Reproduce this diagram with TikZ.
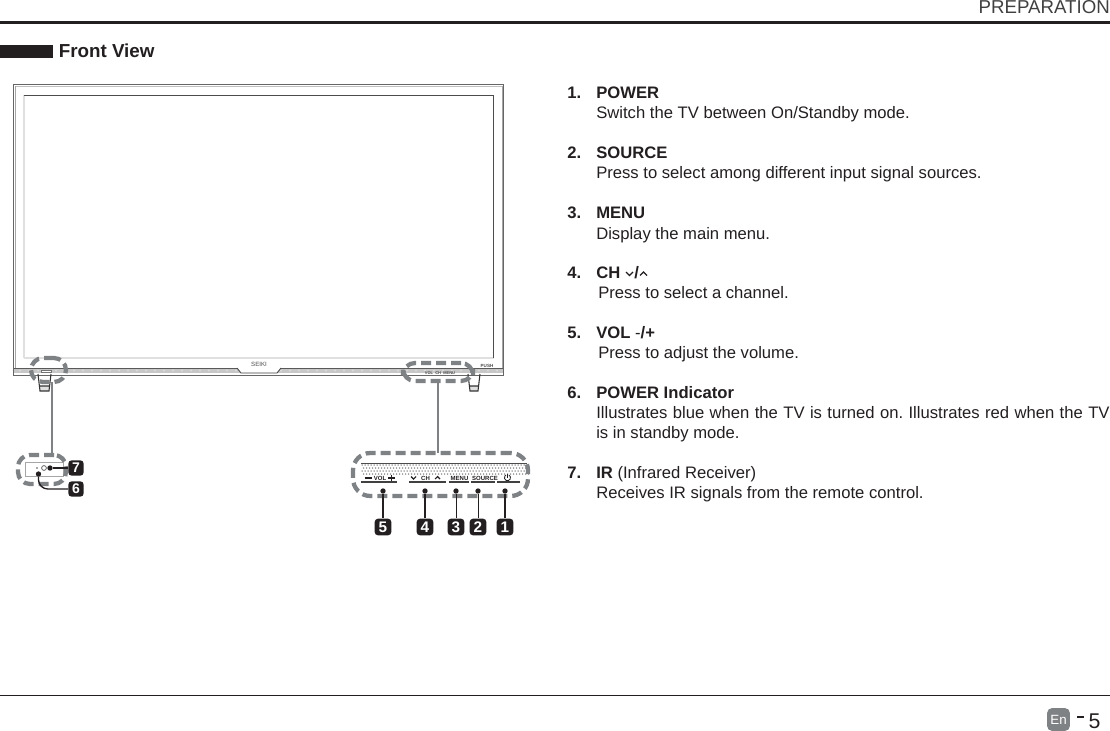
\documentclass[tikz,border=0pt]{standalone}
\usepackage{fontspec}
\setmainfont{Liberation Sans}
\usetikzlibrary{calc}
\definecolor{dashgray}{HTML}{7F8285}
\definecolor{inkdark}{HTML}{231F20}
\tikzset{
  x=0.75pt,y=-0.75pt,
  body/.style={anchor=base west,inner sep=0pt,yshift=-0.75pt,text=inkdark,font=\fontsize{12.48pt}{15pt}\selectfont},
  num/.style={body,font=\fontsize{12.48pt}{15pt}\selectfont\bfseries},
  badge/.style={fill=inkdark,text=white,rounded corners=2.5pt,minimum width=12.5pt,minimum height=12.5pt,inner sep=0pt,font=\fontsize{11.5pt}{12pt}\selectfont\bfseries},
  badgesmall/.style={badge,minimum width=11.5pt,minimum height=11.5pt,font=\fontsize{10.5pt}{11pt}\selectfont\bfseries},
  zone/.style={draw=dashgray,line width=3.2pt,dash pattern=on 7.5pt off 3.75pt,rounded corners=9pt,inner sep=0pt,outer sep=0pt,anchor=north west},
  lead/.style={draw=inkdark,line width=1pt},
  pin/.style={circle,fill=inkdark,minimum size=4pt,inner sep=0pt},
  link/.style={draw=dashgray,line width=1.6pt},
  tv/.style={draw=black!70,line width=0.7pt},
  paneltext/.style={inner sep=0pt,text=inkdark,font=\fontsize{4.5pt}{6pt}\selectfont\bfseries},
}
\begin{document}
\frenchspacing
\begin{tikzpicture}
\useasboundingbox (0,0) rectangle (1110,731);
% header
\node[anchor=base east,inner sep=0pt,text=black!75,font=\fontsize{14pt}{15pt}\selectfont] (hdr) at (1110,14) {PREPARATION};
\fill[inkdark] (0,21) rectangle (1110,24);
\fill[inkdark] (0,45) rectangle (53,58);
\node[anchor=base west,inner sep=0pt,text=inkdark,font=\fontsize{14.1pt}{15pt}\selectfont\bfseries] (title) at (58.5,57.5) {Front View};
% TV body
\draw[black!60,line width=0.6pt,fill=white] (13,84) rectangle (503.5,375);
\draw[black!25,line width=0.6pt] (15,86) -- (502,86);
\draw[black!35,line width=0.6pt] (15,86) -- (15,368);
\draw[black!35,line width=0.6pt] (502,86) -- (502,368);
\draw[black!12,line width=1.2pt] (24,358) -- (494,358);
\draw[black!12,line width=1.5pt] (23.5,95) -- (23.5,358);
\draw[tv] (24,95) -- (493.5,95) -- (493.5,358);
\fill[black!22] (14,368) rectangle (503,373);
\draw[black!65,line width=0.6pt] (14,368) -- (503,368);
\foreach \k in {0,...,53} {\fill[white,opacity=.35] ({20+9*\k},370.5) circle (1.1);}
\draw[black!75,line width=0.6pt,fill=white] (237,368) -- (241,373) -- (277,373) -- (281,368);
\draw[black!55,line width=0.5pt,fill=white] (41,370) rectangle (51,372);
\node[inner sep=0pt,text=black!70,font=\fontsize{4.6pt}{5pt}\selectfont] (seiki) at (259,364) {SEIKI};
\node[inner sep=0pt,text=black!70,font=\fontsize{3.4pt}{4pt}\selectfont\bfseries] (logo) at (487,366) {PUSH};
\node[inner sep=0pt,text=black!70,font=\fontsize{3pt}{4pt}\selectfont\bfseries] (mini) at (440,373) {VOL\ \ CH\ \ MENU};
% feet
\fill[black!12] (40,386) rectangle (49,391);
\draw[black!80,line width=0.8pt] (38,374) -- (40,391) -- (49,391) -- (51,374) (39,386) -- (50,386);
\fill[black!12] (470,386) rectangle (478,391);
\draw[black!80,line width=0.8pt] (468,374) -- (470,391) -- (478,391) -- (480,374) (469,386) -- (479,386);
% left panel
\draw[black!35,line width=0.6pt] (25,462) rectangle (63,476);
\fill[black!70] (37,468) circle (0.8);
\draw[black!70,line width=0.5pt] (44,468) circle (2.4);
% right panel
\fill[white] (361,463) rectangle (527,482);
\foreach \i in {0,...,55} {\foreach \j in {0,1,2,3} {
  \fill[black!55] ({362+3*\i+1.5*mod(\j,2)},{465+3*\j}) circle (0.75);}}
\draw[black!70,line width=0.7pt] (361,463) -- (527,463);
\draw[black!75,line width=0.9pt] (361,482) -- (397,482) (409,482) -- (446,482) (449,482) -- (469,482) (471,482) -- (495,482) (497,482) -- (520,482);
\draw[inkdark,line width=0.9pt] (365,478) -- (372,478) (388,478) -- (395,478) (391.5,475) -- (391.5,481);
\draw[inkdark,line width=0.8pt] (411,476.5) -- (413.5,479) -- (416,476.5) (435,479) -- (437.5,476.5) -- (440,479);
\node[paneltext] (pvol) at (380,478) {VOL};
\node[paneltext] (pch) at (425.5,478) {CH};
\node[paneltext] (pmenu) at (459.5,478) {MENU};
\node[paneltext] (psrc) at (485,478) {SOURCE};
\draw[inkdark,line width=0.6pt] (509,475) arc[start angle=60,end angle=-240,radius=2.3pt];
\draw[inkdark,line width=0.6pt] (507.5,474) -- (507.5,478);
% dashed zones
\node[zone,minimum width=26.25pt,minimum height=18pt] (zoneA) at (31,358) {};
\node[zone,minimum width=52.5pt,minimum height=13.5pt] (zoneB) at (403,363) {};
\node[zone,minimum width=36pt,minimum height=21.75pt] (zoneC) at (18,455) {};
\node[zone,rounded corners=13pt,minimum width=131.25pt,minimum height=32.25pt] (zoneD) at (353,453) {};
% links between zones
\coordinate (la) at (52,382);
\coordinate (lc) at (52,455);
\coordinate (ra) at (438,381);
\coordinate (rd) at (438,453);
\draw[link] (la) -- (lc);
\draw[link] (ra) -- (rd);
% badges and pins
\node[badgesmall] (b7) at (76,468) {7};
\node[badgesmall] (b6) at (76,489) {6};
\node[badge] (b5) at (383,527) {5};
\node[badge] (b4) at (425,527) {4};
\node[badge] (b3) at (456,527) {3};
\node[badge] (b2) at (478,527) {2};
\node[badge] (b1) at (505,527) {1};
\node[pin] (p7) at (50,468) {};
\node[pin] (p6) at (38.5,474) {};
\node[pin] (p5) at (383,491) {};
\node[pin] (p4) at (425,491) {};
\node[pin] (p3) at (456,491) {};
\node[pin] (p2) at (478,491) {};
\node[pin] (p1) at (505,491) {};
\draw[lead] (p7) -- (b7);
\draw[lead,rounded corners=7pt] (p6) |- (b6);
\draw[lead] (p5) -- (b5);
\draw[lead] (p4) -- (b4);
\draw[lead,line width=0.6pt] (p3) -- (b3);
\draw[lead,line width=0.6pt] (p2) -- (b2);
\draw[lead] (p1) -- (b1);
% list
\node[num] (n1) at (567,98) {1.};
\node[num] (t1) at (596,98) {POWER};
\node[body] (d1) at (596,118) {Switch the TV between On/Standby mode.};
\node[num] (n2) at (567,158) {2.};
\node[num] (t2) at (596,158) {SOURCE};
\node[body] (d2) at (596,178) {Press to select among different input signal sources.};
\node[num] (n3) at (567,218) {3.};
\node[num] (t3) at (596,218) {MENU};
\node[body] (d3) at (596,238) {Display the main menu.};
\node[num] (n4) at (567,277) {4.};
\node[num] (t4) at (596,277) {CH};
\draw[inkdark,line width=0.9pt] (626,272) -- (629.5,275.5) -- (633,272);
\node[num] (s4) at (634,277) {/};
\draw[inkdark,line width=0.9pt] (640,275.5) -- (643.5,272) -- (647,275.5);
\node[body] (d4) at (598,297) {Press to select a channel.};
\node[num] (n5) at (567,337) {5.};
\node[num] (t5) at (596,337) {VOL {\mdseries -}/+};
\node[body] (d5) at (598,357) {Press to adjust the volume.};
\node[num] (n6) at (567,397) {6.};
\node[num] (t6) at (596,397) {POWER Indicator};
\node[body] (d6a) at (596,417) {\makebox[385pt][s]{Illustrates blue when the TV is turned on. Illustrates red when the TV}};
\node[body] (d6b) at (596,437) {is in standby mode.};
\node[num] (n7) at (567,477) {7.};
\node[body] (t7) at (596,477) {\textbf{IR} (Infrared Receiver)};
\node[body] (d7) at (596,497) {Receives IR signals from the remote control.};
% footer
\draw[inkdark,line width=0.7pt] (0,695) -- (1110,695);
\node[fill=dashgray,text=white,rounded corners=3.5pt,minimum width=17pt,minimum height=17pt,inner sep=0pt,font=\fontsize{10pt}{11pt}\selectfont] (en) at (1058.5,719.5) {En};
\fill[inkdark] (1077,716) rectangle (1084,718);
\node[anchor=base,inner sep=0pt,text=inkdark,font=\fontsize{16pt}{17pt}\selectfont] (pg) at (1094.5,728) {5};
\end{tikzpicture}
\end{document}
